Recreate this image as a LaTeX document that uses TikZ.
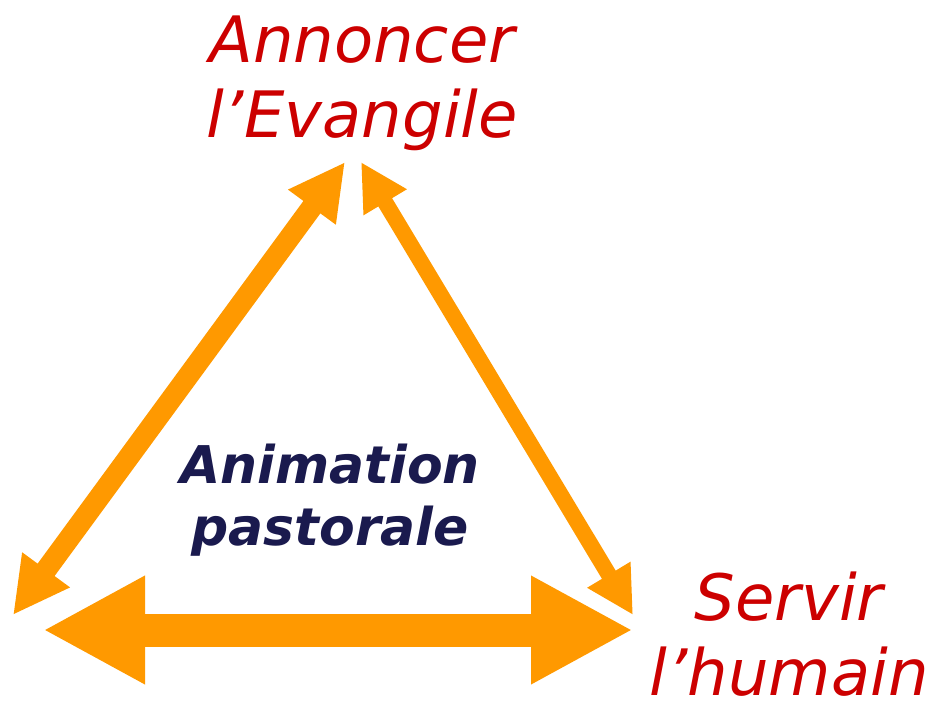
\documentclass[tikz,border=0pt]{standalone}
\usepackage{fontspec}
\setmainfont{DejaVu Sans}
\usetikzlibrary{arrows.meta}
\definecolor{arrorange}{RGB}{255,153,0}
\definecolor{labred}{RGB}{204,0,0}
\definecolor{labnavy}{RGB}{26,26,78}
\tikzset{
  goal/.style={text=labred, font=\fontsize{64}{75}\selectfont\itshape, align=center, inner sep=0pt},
  center label/.style={text=labnavy, font=\fontsize{52}{62}\selectfont\bfseries\itshape, align=center, inner sep=0pt},
  arr/.style={draw=arrorange, fill=arrorange}
}
\begin{document}
\begin{tikzpicture}[x=1pt,y=-1pt]
\useasboundingbox (0,0) rectangle (928,701);
\node[goal, anchor=base] (ann) at (362,137) {Annoncer\\l’Evangile};
\node[goal, anchor=base] (serv) at (789,695) {Servir\\l’humain};
\node[center label, anchor=base] (anim) at (330,545) {Animation\\pastorale};
\coordinate (lt) at (345,162);
\coordinate (lb) at (13,615);
\coordinate (rt) at (361,162);
\coordinate (rb) at (633,615);
\coordinate (hl) at (43,630);
\coordinate (hr) at (633,630);
\draw[arr, line width=21pt, {Triangle[length=56pt,width=55pt]}-{Triangle[length=56pt,width=55pt]}] (lb) -- (lt);
\draw[arr, line width=16pt, {Triangle[length=47pt,width=47pt]}-{Triangle[length=47pt,width=47pt]}] (rt) -- (rb);
\draw[arr, line width=33pt, {Triangle[length=102pt,width=101pt]}-{Triangle[length=102pt,width=101pt]}] (hl) -- (hr);
\end{tikzpicture}
\end{document}
